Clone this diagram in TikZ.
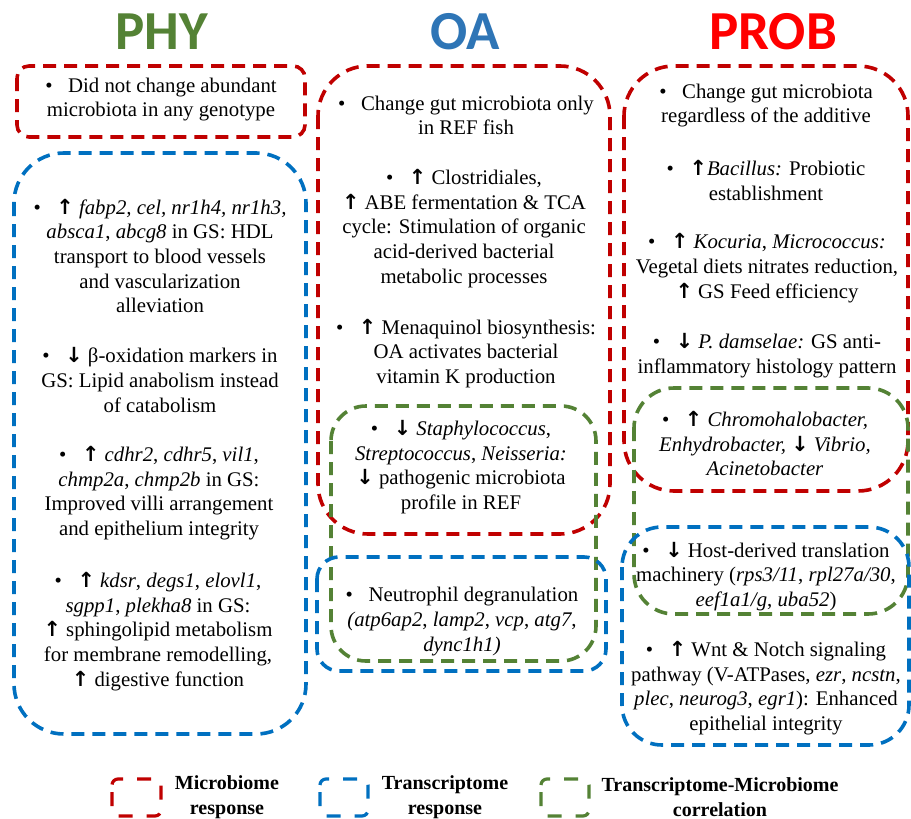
\documentclass[tikz,border=0pt]{standalone}
\usepackage{fontspec}
\setmainfont{Liberation Serif}
\newfontfamily\bodyfont{Liberation Serif}
\newfontfamily\titlefont{Carlito}
\newfontfamily\arrfont{DejaVu Sans}
\definecolor{mred}{HTML}{C00000}
\definecolor{mblue}{HTML}{0070C0}
\definecolor{mgreen}{HTML}{548235}
\definecolor{tgreen}{HTML}{548235}
\definecolor{tblue}{HTML}{2E75B6}
\definecolor{tred}{HTML}{FF0000}
\newcommand{\up}{{\arrfont\bfseries ↑}}
\newcommand{\dn}{{\arrfont\bfseries ↓}}
\newcommand{\bul}{\textbullet\hspace{0.75em}}
\tikzset{
  dbox/.style={line width=3.6pt, dash pattern=on 13pt off 8pt, rounded corners=#1},
  dbox/.default=45pt,
  txt/.style={font=\bodyfont\fontsize{20.8}{24.7}\selectfont, align=center, inner sep=0pt},
  ttl/.style={font=\titlefont\bfseries\fontsize{55}{55}\selectfont, inner sep=0pt},
  leg/.style={font=\bodyfont\bfseries\fontsize{20}{25}\selectfont, align=center, inner sep=0pt},
  lbox/.style={line width=3.2pt, dash pattern=on 14pt off 14pt, dash phase=-7pt, rounded corners=6pt}
}
\begin{document}
\begin{tikzpicture}[x=1pt,y=-1pt]
\useasboundingbox[fill=white] (0,0) rectangle (911,819);
% titles
\node[ttl, text=tgreen] (tphy) at (162,32) {PHY};
\node[ttl, text=tblue] (toa) at (465,32) {OA};
\node[ttl, text=tred] (tprob) at (773,32) {PROB};

% boxes
\draw[dbox=12pt, mred] (17,66) rectangle (305,137);
\draw[dbox=50pt, mblue] (14,153) rectangle (306,734);
\draw[dbox=50pt, mred] (318,66) rectangle (610,534);
\draw[dbox=35pt, mgreen] (331,406) rectangle (596,661);
\draw[dbox=22pt, mblue] (317,557) rectangle (606,671);
\draw[dbox=50pt, mred] (624,66) rectangle (908,491);
\draw[dbox=40pt, mgreen] (634,388) rectangle (908,614);
\draw[dbox=40pt, mblue] (622,527) rectangle (909,745);

% PHY
\node[txt] (p1) at (161,99.5) {\bul Did not change abundant\\ microbiota in any genotype};
\node[txt] (p2) at (160,256) {\bul\up{} \textit{fabp2, cel, nr1h4, nr1h3,}\\ \textit{absca1}, \textit{abcg8} in GS: HDL\\ transport to blood vessels\\ and vascularization\\ alleviation};
\node[txt] (p3) at (160,380) {\bul\dn{} β-oxidation markers in\\ GS: Lipid anabolism instead\\ of catabolism};
\node[txt] (p4) at (159,493) {\bul\up{} \textit{cdhr2}, \textit{cdhr5}, \textit{vil1},\\ \textit{chmp2a}, \textit{chmp2b} in GS:\\ Improved villi arrangement\\ and epithelium integrity};
\node[txt] (p5) at (158,631.5) {\bul\up{} \textit{kdsr}, \textit{degs1}, \textit{elovl1},\\ \textit{sgpp1}, \textit{plekha8} in GS:\\ \up{} sphingolipid metabolism\\ for membrane remodelling,\\ \up{} digestive function};

% OA
\node[txt] (o1) at (466,115.5) {\bul Change gut microbiota only\\ in REF fish};
\node[txt] (o2) at (464,228.5) {\bul\up{} Clostridiales,\\ \up{} ABE fermentation \& TCA\\ cycle: Stimulation of organic\\ acid-derived bacterial\\ metabolic processes};
\node[txt] (o3) at (466,353.5) {\bul\up{} Menaquinol biosynthesis:\\ OA activates bacterial\\ vitamin K production};
\node[txt] (o4) at (461,467) {\bul\dn{} \textit{Staphylococcus},\\ \textit{Streptococcus}, \textit{Neisseria:}\\ \dn{} pathogenic microbiota\\ profile in REF};
\node[txt] (o5) at (462,621.5) {\bul Neutrophil degranulation\\ \textit{(atp6ap2}, \textit{lamp2}, \textit{vcp}, \textit{atg7},\\ \textit{dync1h1)}};

% PROB
\node[txt] (r1) at (766,105.5) {\bul Change gut microbiota\\ regardless of the additive};
\node[txt] (r2) at (766,180.5) {\bul\up\textit{Bacillus:} Probiotic\\ establishment};
\node[txt] (r3) at (767,268) {\bul\up{} \textit{Kocuria}, \textit{Micrococcus:}\\ Vegetal diets nitrates reduction,\\ \up{} GS Feed efficiency};
\node[txt] (r4) at (767,355.5) {\bul\dn{} \textit{P. damselae:} GS anti-\\ inflammatory histology pattern};
\node[txt] (r5) at (765,443.5) {\bul\up{} \textit{Chromohalobacter,}\\ \textit{Enhydrobacter,} \dn{} \textit{Vibrio,}\\ \textit{Acinetobacter}};
\node[txt] (r6) at (766,576.5) {\bul\dn{} Host-derived translation\\ machinery (\textit{rps3/11}, \textit{rpl27a/30},\\ \textit{eef1a1/g}, \textit{uba52})};
\node[txt] (r7) at (766,688) {\bul\up{} Wnt \& Notch signaling\\ pathway (V-ATPases, \textit{ezr}, \textit{ncstn},\\ \textit{plec}, \textit{neurog3}, \textit{egr1}): Enhanced\\ epithelial integrity};

% legend
\draw[lbox, mred] (112,779) rectangle (161,816);
\node[leg] (l1) at (227,797) {Microbiome\\ response};
\draw[lbox, mblue] (320,779) rectangle (368,816);
\node[leg] (l2) at (445,797) {Transcriptome\\ response};
\draw[lbox, mgreen] (541,779) rectangle (589,816);
\node[leg] (l3) at (720,797) {Transcriptome-Microbiome\\ correlation};
\end{tikzpicture}
\end{document}
